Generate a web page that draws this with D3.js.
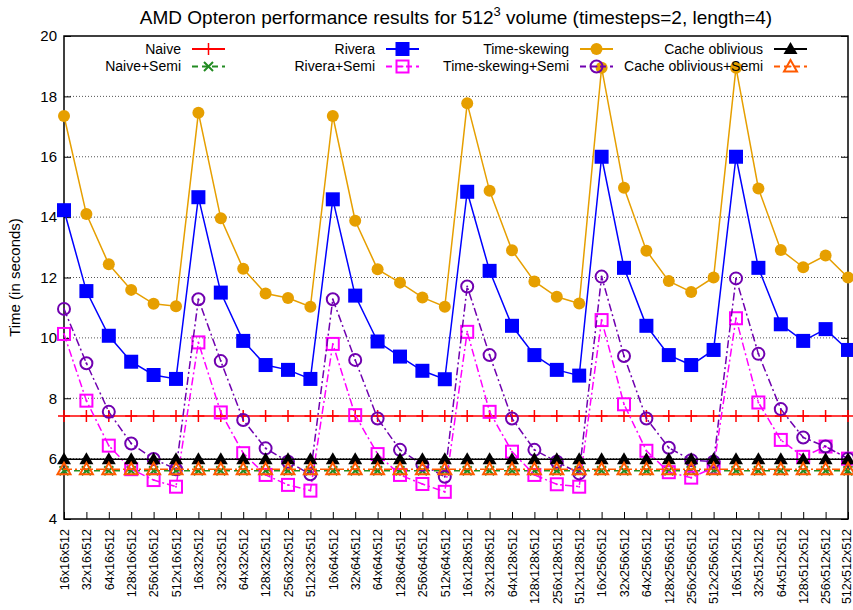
<!DOCTYPE html>
<html>
<head>
<meta charset="utf-8">
<script src="https://cdn.jsdelivr.net/npm/d3@7"></script>
<style>
  body { margin: 0; background: #fff; }
  text { font-family: "Liberation Sans", Arial, sans-serif; }
</style>
</head>
<body>
<script>
// x categories (block size)
var categories = [
  "16x16x512", "32x16x512", "64x16x512", "128x16x512", "256x16x512", "512x16x512",
  "16x32x512", "32x32x512", "64x32x512", "128x32x512", "256x32x512", "512x32x512",
  "16x64x512", "32x64x512", "64x64x512", "128x64x512", "256x64x512", "512x64x512",
  "16x128x512", "32x128x512", "64x128x512", "128x128x512", "256x128x512", "512x128x512",
  "16x256x512", "32x256x512", "64x256x512", "128x256x512", "256x256x512", "512x256x512",
  "16x512x512", "32x512x512", "64x512x512", "128x512x512", "256x512x512", "512x512x512"
];

var yTicks = [4, 6, 8, 10, 12, 14, 16, 18, 20];

// series values (seconds)
var naive = [
  7.41, 7.41, 7.41, 7.41, 7.41, 7.41, 7.41, 7.41, 7.41, 7.41, 7.41, 7.41,
  7.41, 7.41, 7.41, 7.41, 7.41, 7.41, 7.41, 7.41, 7.41, 7.41, 7.41, 7.41,
  7.41, 7.41, 7.41, 7.41, 7.41, 7.41, 7.41, 7.41, 7.41, 7.41, 7.41, 7.41
];
var naiveSemi = [
  5.6, 5.6, 5.6, 5.6, 5.6, 5.6, 5.6, 5.6, 5.6, 5.6, 5.6, 5.6,
  5.6, 5.6, 5.6, 5.6, 5.6, 5.6, 5.6, 5.6, 5.6, 5.6, 5.6, 5.6,
  5.6, 5.6, 5.6, 5.6, 5.6, 5.6, 5.6, 5.6, 5.6, 5.6, 5.6, 5.6
];
var rivera = [
  14.23, 11.55, 10.07, 9.21, 8.77, 8.64,
  14.66, 11.5, 9.9, 9.1, 8.94, 8.64,
  14.59, 11.4, 9.88, 9.38, 8.91, 8.63,
  14.84, 12.22, 10.4, 9.43, 8.94, 8.75,
  16.0, 12.32, 10.4, 9.43, 9.1, 9.6,
  16.0, 12.32, 10.45, 9.9, 10.29, 9.6
];
var riveraSemi = [
  10.13, 7.92, 6.43, 5.65, 5.29, 5.07,
  9.85, 7.53, 6.18, 5.46, 5.13, 4.94,
  9.8, 7.44, 6.15, 5.46, 5.16, 4.9,
  10.2, 7.55, 6.23, 5.46, 5.15, 5.07,
  10.59, 7.8, 6.26, 5.55, 5.37, 5.7,
  10.65, 7.86, 6.62, 6.06, 6.4, 6.0
];
var timeSkewing = [
  17.35, 14.1, 12.44, 11.59, 11.13, 11.05,
  17.46, 13.96, 12.29, 11.47, 11.32, 11.03,
  17.35, 13.88, 12.27, 11.83, 11.34, 11.03,
  17.77, 14.87, 12.9, 11.87, 11.36, 11.14,
  18.95, 14.97, 12.89, 11.88, 11.52, 12.0,
  18.95, 14.95, 12.91, 12.34, 12.73, 12.0
];
var timeSkewingSemi = [
  10.96, 9.16, 7.55, 6.5, 5.99, 5.65,
  11.28, 9.23, 7.28, 6.34, 5.9, 5.48,
  11.28, 9.27, 7.33, 6.29, 5.8, 5.4,
  11.7, 9.43, 7.33, 6.29, 5.9, 5.51,
  12.03, 9.4, 7.33, 6.36, 5.95, 5.9,
  11.97, 9.47, 7.64, 6.7, 6.4, 6.0
];
var cacheOblivious = [
  5.98, 5.98, 5.98, 5.98, 5.98, 5.98, 5.98, 5.98, 5.98, 5.98, 5.98, 5.98,
  5.98, 5.98, 5.98, 5.98, 5.98, 5.98, 5.98, 5.98, 5.98, 5.98, 5.98, 5.98,
  5.98, 5.98, 5.98, 5.98, 5.98, 5.98, 5.98, 5.98, 5.98, 5.98, 5.98, 5.98
];
var cacheObliviousSemi = [
  5.65, 5.65, 5.65, 5.65, 5.65, 5.65, 5.65, 5.65, 5.65, 5.65, 5.65, 5.65,
  5.65, 5.65, 5.65, 5.65, 5.65, 5.65, 5.65, 5.65, 5.65, 5.65, 5.65, 5.65,
  5.65, 5.65, 5.65, 5.65, 5.65, 5.65, 5.65, 5.65, 5.65, 5.65, 5.65, 5.65
];

var seriesNames = ["Naive", "Naive+Semi", "Rivera", "Rivera+Semi",
  "Time-skewing", "Time-skewing+Semi", "Cache oblivious", "Cache oblivious+Semi"];

// styles, in plot order (later ones drawn on top)
var series = [
  { name: seriesNames[0], values: naive, color: "#ff0000", dash: null, keyDash: null, marker: "plus" },
  { name: seriesNames[1], values: naiveSemi, color: "#228b22", dash: "6,4", keyDash: "6,4", marker: "cross" },
  { name: seriesNames[2], values: rivera, color: "#0000ff", dash: null, keyDash: null, marker: "squareFill" },
  { name: seriesNames[3], values: riveraSemi, color: "#ff00ff", dash: "8,3,2,3", keyDash: "6,4", marker: "square" },
  { name: seriesNames[4], values: timeSkewing, color: "#e69f00", dash: null, keyDash: null, marker: "circleFill" },
  { name: seriesNames[5], values: timeSkewingSemi, color: "#7000b0", dash: "8,3,2,3", keyDash: "6,4", marker: "circle" },
  { name: seriesNames[6], values: cacheOblivious, color: "#000000", dash: null, keyDash: null, marker: "triFill" },
  { name: seriesNames[7], values: cacheObliviousSemi, color: "#ff5a00", dash: "8,3,2,3", keyDash: "6,4", marker: "tri" }
];

var width = 853, height = 610;
var margin = { left: 64, right: 5, top: 36, bottom: 91 };

var svg = d3.select("body").append("svg")
  .attr("width", width)
  .attr("height", height);

var x = d3.scalePoint()
  .domain(categories)
  .range([margin.left, width - margin.right]);

var y = d3.scaleLinear()
  .domain([4, 20])
  .range([height - margin.bottom, margin.top]);

// grid
svg.append("g")
  .selectAll("line")
  .data(yTicks.slice(1, -1))
  .enter()
  .append("line")
  .attr("x1", margin.left)
  .attr("x2", width - margin.right)
  .attr("y1", function(d) { return y(d); })
  .attr("y2", function(d) { return y(d); })
  .attr("stroke", "#555")
  .attr("stroke-width", 1)
  .attr("stroke-dasharray", "1,2");

// axes
var yAxis = svg.append("g")
  .attr("transform", "translate(" + margin.left + ",0)")
  .call(d3.axisLeft(y).tickValues(yTicks).tickSizeInner(-7).tickSizeOuter(0).tickPadding(7));
yAxis.select(".domain").remove();
yAxis.selectAll("text").style("font-size", "15px").attr("fill", "#000");

var yAxisR = svg.append("g")
  .attr("transform", "translate(" + (width - margin.right) + ",0)")
  .call(d3.axisRight(y).tickValues(yTicks).tickSizeInner(-7).tickSizeOuter(0).tickFormat(""));
yAxisR.select(".domain").remove();

var xAxis = svg.append("g")
  .attr("transform", "translate(0," + (height - margin.bottom) + ")")
  .call(d3.axisBottom(x).tickSizeInner(-7).tickSizeOuter(0));
xAxis.select(".domain").remove();
xAxis.selectAll("text")
  .style("font-size", "12.5px")
  .attr("fill", "#000")
  .attr("text-anchor", "end")
  .attr("transform", "rotate(-90)")
  .attr("x", -10)
  .attr("y", function(d, i) { return i == categories.length - 1 ? -2 : 0; })
  .attr("dy", "0.35em");

// border
svg.append("rect")
  .attr("x", margin.left)
  .attr("y", margin.top)
  .attr("width", width - margin.right - margin.left)
  .attr("height", height - margin.bottom - margin.top)
  .attr("fill", "none")
  .attr("stroke", "#000")
  .attr("stroke-width", 1.5);

// marker drawing
function drawMarker(g, type, color) {
  if (type == "plus") {
    g.append("path").attr("d", "M-6,0H6M0,-6V6")
      .attr("stroke", color).attr("stroke-width", 1.5).attr("fill", "none");
  } else if (type == "cross") {
    g.append("path").attr("d", "M-4.5,-4.5L4.5,4.5M-4.5,4.5L4.5,-4.5")
      .attr("stroke", color).attr("stroke-width", 2).attr("fill", "none");
  } else if (type == "squareFill") {
    g.append("rect").attr("x", -7).attr("y", -7).attr("width", 14).attr("height", 14)
      .attr("fill", color);
  } else if (type == "square") {
    g.append("rect").attr("x", -6).attr("y", -6).attr("width", 12).attr("height", 12)
      .attr("fill", "none").attr("stroke", color).attr("stroke-width", 2);
    g.append("circle").attr("r", 1).attr("fill", color);
  } else if (type == "circleFill") {
    g.append("circle").attr("r", 6).attr("fill", color);
  } else if (type == "circle") {
    g.append("circle").attr("r", 6).attr("fill", "none")
      .attr("stroke", color).attr("stroke-width", 2);
    g.append("circle").attr("r", 1).attr("fill", color);
  } else if (type == "triFill") {
    g.append("path").attr("d", "M0,-7L7,5H-7Z").attr("fill", color);
  } else if (type == "tri") {
    g.append("path").attr("d", "M0,-6.5L6.5,5H-6.5Z").attr("fill", "none")
      .attr("stroke", color).attr("stroke-width", 2);
    g.append("circle").attr("r", 1).attr("fill", color);
  }
}

var line = d3.line()
  .x(function(d, i) { return x(categories[i]); })
  .y(function(d) { return y(d); });

series.forEach(function(s) {
  var g = svg.append("g");
  g.append("path")
    .datum(s.values)
    .attr("d", line)
    .attr("fill", "none")
    .attr("stroke", s.color)
    .attr("stroke-width", 1.5)
    .attr("stroke-dasharray", s.dash);
  g.selectAll("g")
    .data(s.values)
    .enter()
    .append("g")
    .attr("transform", function(d, i) {
      return "translate(" + x(categories[i]) + "," + y(d) + ")";
    })
    .each(function() { drawMarker(d3.select(this), s.marker, s.color); });
});

// legend: 4 columns x 2 rows
var legend = svg.append("g");
series.forEach(function(s, i) {
  var col = Math.floor(i / 2), row = i % 2;
  var tx = 181 + col * 194, ty = 49 + row * 17.5;
  var lg = legend.append("g");
  lg.append("text")
    .attr("x", tx)
    .attr("y", ty)
    .attr("dy", "0.35em")
    .attr("text-anchor", "end")
    .style("font-size", "14px")
    .text(s.name);
  lg.append("line")
    .attr("x1", tx + 11).attr("x2", tx + 44)
    .attr("y1", ty).attr("y2", ty)
    .attr("stroke", s.color)
    .attr("stroke-width", 2)
    .attr("stroke-dasharray", s.keyDash);
  var m = lg.append("g").attr("transform", "translate(" + (tx + 27.5) + "," + ty + ")");
  drawMarker(m, s.marker, s.color);
});

// title
var title = svg.append("text")
  .attr("x", (margin.left + width - margin.right) / 2)
  .attr("y", 24)
  .attr("text-anchor", "middle")
  .style("font-size", "19px");
title.append("tspan").text("AMD Opteron performance results for 512");
title.append("tspan").attr("dy", -8).style("font-size", "13px").text("3");
title.append("tspan").attr("dy", 8).text(" volume (timesteps=2, length=4)");

// y label
svg.append("text")
  .attr("transform", "translate(20," + ((margin.top + height - margin.bottom) / 2) + ") rotate(-90)")
  .attr("text-anchor", "middle")
  .style("font-size", "15px")
  .text("Time (in seconds)");
</script>
</body>
</html>
